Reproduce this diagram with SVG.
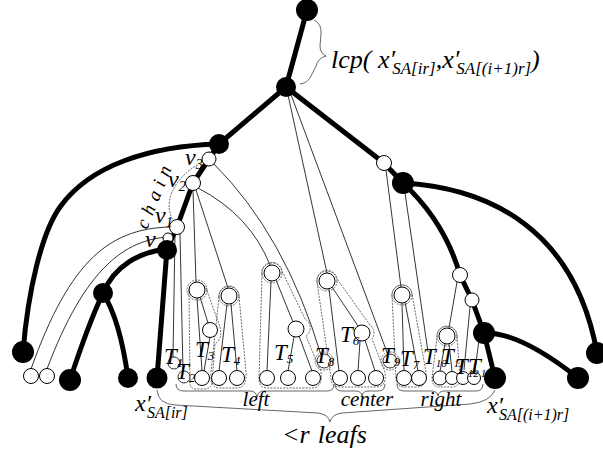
<svg xmlns="http://www.w3.org/2000/svg" width="603" height="452" viewBox="0 0 603 452">
<defs><style>
.thick{fill:none;stroke:#000;stroke-width:5;stroke-linecap:round;stroke-linejoin:round}
.thin{fill:none;stroke:#000;stroke-width:0.8}
.dash{fill:none;stroke:#444;stroke-width:0.8;stroke-dasharray:2 1.2}
.brace{fill:none;stroke:#555;stroke-width:0.9}
.bn{fill:#000}
.wn{fill:#fff;stroke:#000;stroke-width:1}
.sc{fill:#fff;stroke:#000;stroke-width:0.8}
.t{font-family:"Liberation Serif","Times New Roman",serif;font-style:italic;fill:#000}
</style></defs>
<rect width="603" height="452" fill="#fff"/>

<g id="connectors">
  <path class="thin" d="M288,95 L327,273"/>
  <path class="thin" d="M290,92 L388,355"/>
  <path class="thin" d="M193,190 L196,282"/>
  <path class="thin" d="M196,190 L228,288"/>
  <path class="thin" d="M198,188 Q250,215 270,265"/>
  <path class="thin" d="M214,164 Q285,235 321,355"/>
  <path class="thin" d="M175,234 L173,357"/>
  <path class="thin" d="M180,234 L183,371"/>
  <path class="thin" d="M386,170 L401,287"/>
  <path class="thin" d="M405,193 L428,352"/>
  <path class="thin" d="M457,282 L449,328"/>
  <path class="thin" d="M470,307 L464,370"/>
  <path class="thin" d="M479,340 L475,370"/>
  <path class="thin" d="M177,227 C110,226 70,260 31,369"/>
  <path class="thin" d="M168,237 C125,240 85,268 47,369"/>
  <path class="thin" d="M197,298 L202,371 M200,297 L208,323 M210,337 L204,371"/>
  <path class="thin" d="M227,304 L219,371 M231,304 L237,371"/>
  <path class="thin" d="M271,281 L267,371 M276,280 L293,322 M294,337 L288,371 M299,336 L312,371"/>
  <path class="thin" d="M329,289 L339,371 M332,287 L358,326 M360,341 L358,371 M365,340 L375,371"/>
  <path class="thin" d="M402,303 L404,371 M405,302 L418,371"/>
  <path class="thin" d="M445,344 L440,371 M449,344 L452,371"/>
  <path class="dash" d="M189,291 A9,9 0 0 1 206,288 L220,327 Q223,338 215,344 L212,383 Q211,389 204,389 L196,389 Q190,389 190,383 Z"/>
  <path class="dash" d="M219,297 A10,10 0 0 1 239,296 L246,372 Q247,388 237,388 L219,388 Q210,388 211,372 Z"/>
  <path class="dash" d="M262,274 A10,10 0 0 1 282,271 L305,319 A10,10 0 0 1 306,336 L321,372 Q323,388 312,388 L267,388 Q259,388 259,378 Z"/>
  <path class="dash" d="M317,282 A10,10 0 0 1 337,279 L370,325 A10,10 0 0 1 372,339 L385,372 Q387,387 376,387 L340,387 Q331,387 331,378 Z"/>
  <path class="dash" d="M392,296 A10,10 0 0 1 412,294 L426,372 Q427,387 417,387 L404,387 Q396,387 396,378 Z"/>
  <path class="dash" d="M437,337 A10,10 0 0 1 457,336 L460,376 Q460,387 452,387 L440,387 Q432,387 432,378 Z"/>
  <path class="dash" d="M174,222 C163,205 170,180 202,162"/>
  <path class="thick" d="M307,10 L286,87"/>
  <path class="thick" d="M286,87 L219,144"/>
  <path class="thick" d="M286,87 L384,163 L403,183"/>
  <path class="thick" d="M219,144 C150,146 90,165 60,207 C42,232 28,290 23,352"/>
  <path class="thick" d="M219,144 L209,159 L193,183 L177,227 L167,249 L157,378"/>
  <path class="thick" d="M167,249 C140,252 115,265 103,293"/>
  <path class="thick" d="M103,293 Q88,325 70,380"/>
  <path class="thick" d="M103,293 Q120,320 128,378"/>
  <path class="thick" d="M403,183 Q445,222 460,275 L472,300 L484,333 L495,378"/>
  <path class="thick" d="M403,183 C490,188 575,230 597,353"/>
  <path class="thick" d="M484,333 Q520,332 578,378"/>
  <path class="brace" d="M314,20 Q322,24 321,34 L320,46 Q320,53 326,56 Q318,58 316,66 L311,76 Q308,83 300,84"/>
  <path class="brace" d="M176,384 Q176,391 184,391 L250,391 Q256,391 257,397 Q258,391 264,391 L327,391 Q334,391 334,384"/>
  <path class="brace" d="M335,384 Q335,391 342,391 L356,391 Q361,391 362,396 Q363,391 368,391 L378,391 Q385,391 385,384"/>
  <path class="brace" d="M397,384 Q397,391 404,391 L432,391 Q437,391 438,396 Q439,391 444,391 L476,391 Q483,391 483,384"/>
  <path class="brace" d="M157,390 Q158,404 175,405 L318,413 Q328,414 330,422 Q332,414 342,413 L470,404 Q490,402 495,390"/>
</g>

<g id="n-root"><circle class="bn" cx="307" cy="10" r="11"/></g>
<g id="n-lcp"><circle class="bn" cx="286" cy="87" r="10"/></g>
<g id="n-A"><circle class="bn" cx="219" cy="144" r="10"/></g>
<g id="n-B"><circle class="bn" cx="403" cy="183" r="11"/></g>
<g id="n-v3"><circle class="wn" cx="209" cy="159" r="7"/></g>
<g id="n-v2"><circle class="wn" cx="193" cy="183" r="7.5"/></g>
<g id="n-v1"><circle class="wn" cx="177" cy="227" r="7.5"/></g>
<g id="n-vw"><circle class="wn" cx="168" cy="238" r="5"/></g>
<g id="n-v"><circle class="bn" cx="167" cy="250" r="10"/></g>
<g id="n-C"><circle class="bn" cx="103" cy="293" r="10"/></g>
<g id="n-L1"><circle class="bn" cx="23" cy="352" r="11"/></g>
<g id="n-L2"><circle class="bn" cx="70" cy="380" r="11"/></g>
<g id="n-L3"><circle class="bn" cx="128" cy="378" r="10"/></g>
<g id="n-xl"><circle class="bn" cx="157" cy="378" r="10.5"/></g>
<g id="n-w1"><circle class="wn" cx="384" cy="163" r="7.5"/></g>
<g id="n-w2"><circle class="wn" cx="460" cy="275" r="7.5"/></g>
<g id="n-w3"><circle class="wn" cx="472" cy="300" r="7"/></g>
<g id="n-D"><circle class="bn" cx="484" cy="333" r="11"/></g>
<g id="n-L4"><circle class="bn" cx="578" cy="378" r="11"/></g>
<g id="n-L5"><circle class="bn" cx="597" cy="353" r="11"/></g>
<g id="n-wl1"><circle class="wn" cx="31" cy="376" r="7.5"/></g>
<g id="n-wl2"><circle class="wn" cx="47" cy="376" r="7.5"/></g>

<g id="n-T3r"><circle class="dash" cx="197" cy="290" r="10"/><circle class="wn" cx="197" cy="290" r="8"/></g>
<g id="n-T3c"><circle class="wn" cx="210" cy="330" r="7.5"/></g>
<g id="n-T4r"><circle class="dash" cx="229" cy="296" r="10"/><circle class="wn" cx="229" cy="296" r="8"/></g>
<g id="n-T5r"><circle class="dash" cx="272" cy="273" r="10"/><circle class="wn" cx="272" cy="273" r="8"/></g>
<g id="n-T5c"><circle class="wn" cx="296" cy="329" r="8"/></g>
<g id="n-T6r"><circle class="dash" cx="327" cy="281" r="10"/><circle class="wn" cx="327" cy="281" r="8"/></g>
<g id="n-T6c"><circle class="wn" cx="362" cy="333" r="8"/></g>
<g id="n-T7r"><circle class="dash" cx="402" cy="295" r="10"/><circle class="wn" cx="402" cy="295" r="8"/></g>
<g id="n-T11r"><circle class="dash" cx="447" cy="336" r="10"/><circle class="wn" cx="447" cy="336" r="8"/></g>

<g id="leaves">
  <circle class="wn" cx="202" cy="378" r="7.5"/>
  <circle class="wn" cx="219" cy="378" r="7.5"/>
  <circle class="wn" cx="237" cy="378" r="7.5"/>
  <circle class="wn" cx="267" cy="378" r="7.5"/>
  <circle class="wn" cx="288" cy="378" r="7.5"/>
  <circle class="wn" cx="313" cy="378" r="7.5"/>
  <circle class="wn" cx="340" cy="378" r="7.5"/>
  <circle class="wn" cx="358" cy="378" r="7.5"/>
  <circle class="wn" cx="376" cy="378" r="7.5"/>
  <circle class="wn" cx="404" cy="378" r="7.5"/>
  <circle class="wn" cx="419" cy="378" r="7.5"/>
  <circle class="wn" cx="440" cy="378" r="7"/>
  <circle class="wn" cx="452" cy="378" r="6.5"/>
  <circle class="wn" cx="463" cy="378" r="6.5"/>
  <circle class="wn" cx="474" cy="378" r="6.5"/>
</g>

<g id="n-T1"><circle class="sc" cx="174" cy="363" r="6"/></g>
<g id="n-T2"><circle class="sc" cx="184" cy="377" r="6"/></g>
<g id="n-T8"><circle class="dash" cx="324" cy="361" r="9"/><circle class="sc" cx="324" cy="361" r="7"/></g>
<g id="n-T9"><circle class="dash" cx="390" cy="361" r="9"/><circle class="sc" cx="390" cy="361" r="7"/></g>
<g id="n-xr"><circle class="bn" cx="495" cy="378" r="11"/></g>

<g id="labels" class="t">
  <text x="331" y="68" font-size="26">lcp( x′<tspan font-size="17" dy="6" dx="-3">SA[ir]</tspan><tspan dy="-6">,x′</tspan><tspan font-size="17" dy="6" dx="-3">SA[(i+1)r]</tspan><tspan dy="-6">)</tspan></text>
  <text x="185" y="165" font-size="24">v<tspan font-size="14" dy="4">3</tspan></text>
  <text x="168" y="187" font-size="24">v<tspan font-size="14" dy="4">2</tspan></text>
  <text x="155" y="223" font-size="24">v<tspan font-size="14" dy="4">1</tspan></text>
  <text x="145" y="247" font-size="24">v</text>
  <text font-size="19" letter-spacing="6" transform="translate(147,230) rotate(-68)">chain</text>
  <text x="164" y="364" font-size="23">T<tspan font-size="13" dy="3">1</tspan></text>
  <text x="176" y="379" font-size="23">T<tspan font-size="13" dy="3">2</tspan></text>
  <text x="195" y="357" font-size="23">T<tspan font-size="13" dy="3">3</tspan></text>
  <text x="221" y="362" font-size="23">T<tspan font-size="13" dy="3">4</tspan></text>
  <text x="274" y="360" font-size="23">T<tspan font-size="13" dy="3">5</tspan></text>
  <text x="315" y="363" font-size="23">T<tspan font-size="13" dy="3">8</tspan></text>
  <text x="340" y="342" font-size="23">T<tspan font-size="13" dy="3">6</tspan></text>
  <text x="381" y="363" font-size="23">T<tspan font-size="13" dy="3">9</tspan></text>
  <text x="400" y="366" font-size="23">T<tspan font-size="13" dy="3">7</tspan></text>
  <text x="423" y="364" font-size="23">T<tspan font-size="11" dy="3">10</tspan></text>
  <text x="441" y="364" font-size="23">T<tspan font-size="11" dy="3">11</tspan></text>
  <text x="455" y="374" font-size="23">T<tspan font-size="11" dy="3">12</tspan></text>
  <text x="468" y="374" font-size="23">T<tspan font-size="11" dy="3">13</tspan></text>
  <text x="135" y="411" font-size="24">x′<tspan font-size="16" dy="7" dx="-4">SA[ir]</tspan></text>
  <text x="487" y="413" font-size="24">x′<tspan font-size="16" dy="7" dx="-4">SA[(i+1)r]</tspan></text>
  <text x="256" y="406" font-size="21" text-anchor="middle">left</text>
  <text x="367" y="406" font-size="21" text-anchor="middle">center</text>
  <text x="441" y="406" font-size="21" text-anchor="middle">right</text>
  <text x="282" y="443" font-size="26">&lt;r<tspan dx="8">leafs</tspan></text>
</g>
</svg>
